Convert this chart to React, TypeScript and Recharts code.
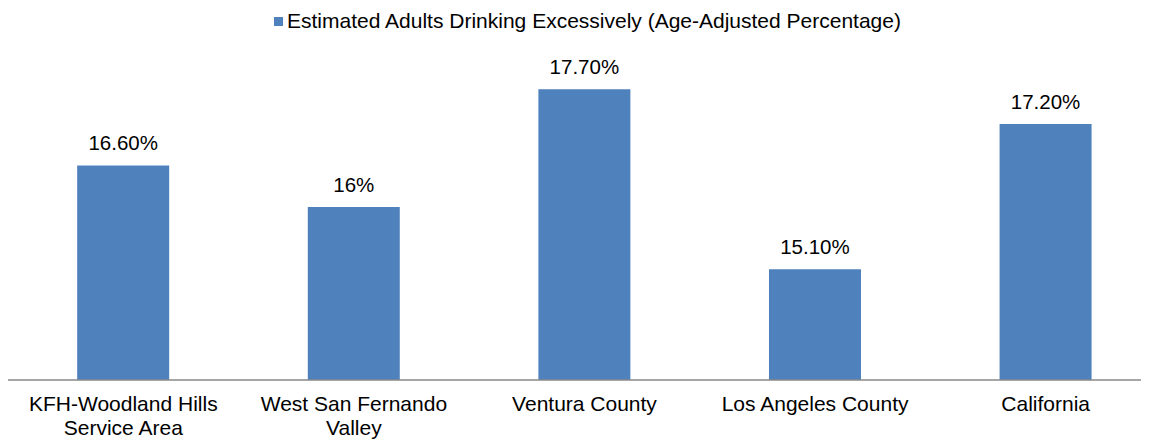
import React from "react";
import { BarChart, Bar, XAxis, YAxis, Legend, LabelList } from "recharts";

const categories = [
  "KFH-Woodland Hills Service Area",
  "West San Fernando Valley",
  "Ventura County",
  "Los Angeles County",
  "California",
];
const tickLines = [
  ["KFH-Woodland Hills", "Service Area"],
  ["West San Fernando", "Valley"],
  ["Ventura County"],
  ["Los Angeles County"],
  ["California"],
];
const values = [16.6, 16, 17.7, 15.1, 17.2];
const valueLabels = ["16.60%", "16%", "17.70%", "15.10%", "17.20%"];
const seriesName = "Estimated Adults Drinking Excessively (Age-Adjusted Percentage)";
const yDomain = [13.5, 18.5];

const BAR_COLOR = "#4F81BD";
const FONT = "'Liberation Sans', Arial, sans-serif";

const data = categories.map((c, i) => ({
  name: c,
  value: values[i],
  label: valueLabels[i],
}));

const CategoryTick = (props: any) => {
  const { x, y, index } = props;
  const lines = tickLines[index] || [];
  return (
    <text x={x} y={y} textAnchor="middle" fontSize={21} fill="#000" fontFamily={FONT}>
      {lines.map((l, i) => (
        <tspan key={i} x={x} dy={i === 0 ? 23 : 24}>
          {l}
        </tspan>
      ))}
    </text>
  );
};

const LegendContent = () => (
  <div
    style={{
      height: 26,
      display: "flex",
      alignItems: "center",
      justifyContent: "center",
      fontFamily: FONT,
      fontSize: 21,
      color: "#000",
      paddingLeft: 6,
    }}
  >
    <span
      style={{
        display: "inline-block",
        width: 9,
        height: 9,
        background: BAR_COLOR,
        marginRight: 4,
      }}
    />
    <span>{seriesName}</span>
  </div>
);

export default function App() {
  return (
    <div style={{ width: 1141, height: 431, overflow: "hidden", position: "relative" }}>
      <BarChart
        width={1153}
        height={440}
        data={data}
        margin={{ top: 0, right: 0, left: 0, bottom: 0 }}
        barCategoryGap="30%"
        style={{ fontFamily: FONT }}
      >
        <Legend verticalAlign="top" height={26} content={<LegendContent />} />
        <YAxis hide domain={yDomain} />
        <XAxis
          dataKey="name"
          height={68}
          axisLine={{ stroke: "#898989", strokeWidth: 1.5 }}
          tickLine={false}
          interval={0}
          tick={<CategoryTick />}
        />
        <Bar dataKey="value" fill={BAR_COLOR} isAnimationActive={false} name={seriesName}>
          <LabelList dataKey="label" position="top" offset={15} fontSize={20.5} fill="#000" fontFamily={FONT} />
        </Bar>
      </BarChart>
    </div>
  );
}
